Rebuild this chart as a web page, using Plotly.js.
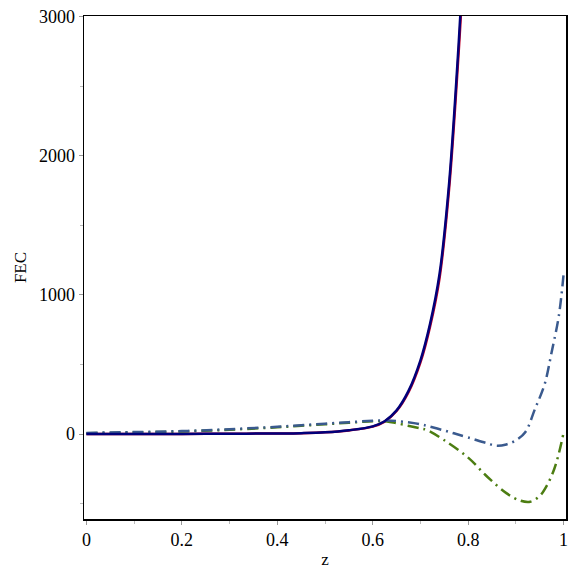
<!DOCTYPE html>
<html>
<head>
<meta charset="utf-8">
<script src="https://cdn.plot.ly/plotly-3.0.1.min.js"></script>
<style>
  html, body { margin: 0; padding: 0; background: #fff; }
  #plot { width: 578px; height: 578px; }
</style>
</head>
<body>
<div id="plot"></div>
<script>
// solid curves (red underneath, navy on top)
var zSolid = [0, 0.1, 0.2, 0.3, 0.4, 0.45, 0.5, 0.55, 0.6, 0.625, 0.65, 0.675, 0.7, 0.72, 0.74, 0.76, 0.78, 0.79];
var fecNavy = [0, 0, 0.5, 2, 4, 6, 12, 27, 55, 92, 170, 310, 530, 790, 1150, 1800, 2800, 3400];
var fecRed  = [0, 0, 0.5, 2, 4, 6, 12, 26, 53, 89, 165, 300, 515, 770, 1120, 1760, 2740, 3340];

// dash-dot curves
var zBlue = [0, 0.1, 0.2, 0.3, 0.4, 0.45, 0.5, 0.55, 0.6, 0.63, 0.65, 0.7, 0.72, 0.75, 0.77, 0.8, 0.84, 0.86, 0.88, 0.9, 0.92, 0.94, 0.96, 0.975, 0.99, 1.0];
var fecBlue = [8, 14, 21, 35, 52, 63, 74, 85, 95, 98, 94, 70, 53, 25, 5, -25, -67, -85, -75, -45, 15, 180, 355, 590, 850, 1150];

var zGreen = [0, 0.1, 0.2, 0.3, 0.4, 0.45, 0.5, 0.55, 0.6, 0.63, 0.65, 0.7, 0.713, 0.75, 0.8, 0.84, 0.88, 0.91, 0.93, 0.95, 0.965, 0.98, 0.99, 1.0];
var fecGreen = [5, 11, 18, 31, 48, 59, 70, 81, 91, 90, 77, 40, 29, -45, -170, -307, -425, -480, -487, -445, -370, -255, -140, 10];

var dashDot = "11px,5px,2px,5px";

var traceRed = {
  x: zSolid, y: fecRed, mode: "lines", type: "scatter",
  line: { color: "#c0002a", width: 2.5, shape: "spline" }
};
var traceGreen = {
  x: zGreen, y: fecGreen, mode: "lines", type: "scatter",
  line: { color: "#4c7d12", width: 2.5, dash: dashDot, shape: "spline" }
};
var traceBlue = {
  x: zBlue, y: fecBlue, mode: "lines", type: "scatter",
  line: { color: "#3a5a8e", width: 2.5, dash: dashDot, shape: "spline" }
};
var traceNavy = {
  x: zSolid, y: fecNavy, mode: "lines", type: "scatter",
  line: { color: "#00007a", width: 2.5, shape: "spline" }
};

var layout = {
  width: 578,
  height: 578,
  showlegend: false,
  paper_bgcolor: "#fff",
  plot_bgcolor: "#fff",
  font: { family: "Liberation Serif, Times New Roman, serif", size: 18, color: "#000" },
  margin: { l: 84, r: 12, t: 16, b: 59 },
  xaxis: {
    range: [-0.005, 1.005],
    tickvals: [0, 0.2, 0.4, 0.6, 0.8, 1],
    ticktext: ["0", "0.2", "0.4", "0.6", "0.8", "1"],
    ticks: "outside", ticklen: 4, tickcolor: "#999",
    minor: { tickvals: [0.1, 0.3, 0.5, 0.7, 0.9], ticks: "outside", ticklen: 3, tickcolor: "#bbb" },
    showgrid: false, zeroline: false,
    showline: true, mirror: true, linecolor: "#000", linewidth: 1.5,
    title: { text: "z", standoff: 4, font: { size: 17 } }
  },
  yaxis: {
    range: [-611, 3005],
    tickvals: [0, 1000, 2000, 3000],
    ticks: "outside", ticklen: 4, tickcolor: "#999",
    minor: { tickvals: [-500, 500, 1500, 2500], ticks: "outside", ticklen: 3, tickcolor: "#bbb" },
    showgrid: false, zeroline: false,
    showline: true, mirror: true, linecolor: "#000", linewidth: 1.5,
    title: { text: "FEC", standoff: 8, font: { size: 17 } }
  }
};

Plotly.newPlot("plot", [traceRed, traceGreen, traceBlue, traceNavy], layout, { staticPlot: true });
</script>
</body>
</html>
